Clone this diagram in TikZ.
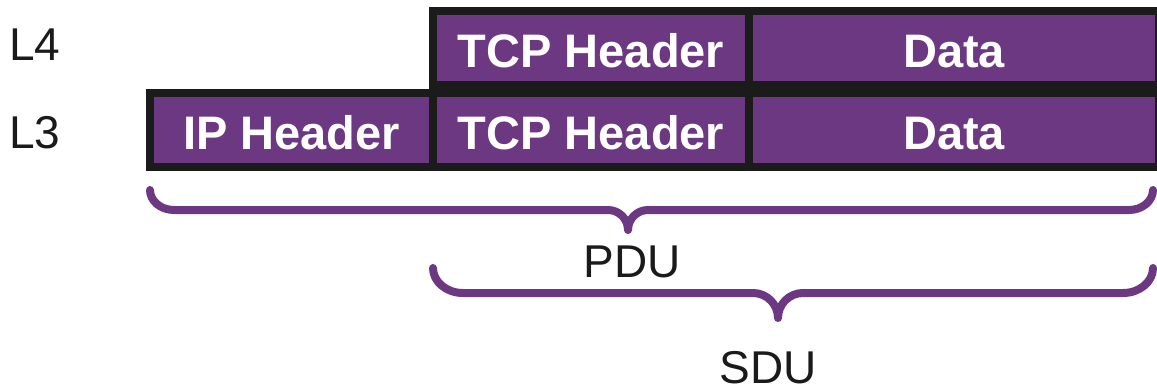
\documentclass[tikz,border=0pt]{standalone}
\usepackage{fontspec}
\setmainfont{Liberation Sans}
\usetikzlibrary{positioning}
\definecolor{pdupurple}{RGB}{108,56,130}
\definecolor{edgegray}{RGB}{27,27,27}
\definecolor{textgray}{RGB}{26,26,26}
% downward curly brace: left x, right x, top y, tip x, size
\def\bracedown(#1,#2,#3,#4,#5){\draw[brace] (#1,#3) .. controls (#1,#3+0.552*#5) and (#1+0.538*#5,#3+#5) .. (#1+1.2*#5,#3+#5) -- (#4-#5,#3+#5) .. controls (#4-0.448*#5,#3+#5) and (#4,#3+1.448*#5) .. (#4,#3+2*#5) .. controls (#4,#3+1.448*#5) and (#4+0.448*#5,#3+#5) .. (#4+#5,#3+#5) -- (#2-1.2*#5,#3+#5) .. controls (#2-0.538*#5,#3+#5) and (#2,#3+0.552*#5) .. (#2,#3);}

\begin{document}
\begin{tikzpicture}[x=1pt, y=-1pt,
	cell/.style={draw=edgegray, line width=8pt, fill=pdupurple, text=white,
		font=\fontsize{47}{56}\selectfont\bfseries, minimum height=74pt,
		text height=39pt, text depth=0pt, inner sep=0pt, outer sep=0pt},
	lbl/.style={text=textgray, font=\fontsize{46}{55}\selectfont, inner sep=0pt, anchor=base},
	brace/.style={draw=pdupurple, line width=8pt, line cap=round, line join=round}]
	%%%%% START %%%%%
	\useasboundingbox (0,0) rectangle (1157,388);
	
	% layer 3 packet
	\node[cell, minimum width=283pt] (iphdr) at (291.5,130) {IP Header};
	\node[cell, minimum width=316pt, right=0pt of iphdr] (tcphdr3) {TCP Header};
	\node[cell, minimum width=410pt, right=0pt of tcphdr3] (data3) {Data};
	
	% layer 4 segment
	\node[cell, minimum width=316pt, above=8pt of tcphdr3] (tcphdr4) {TCP Header};
	\node[cell, minimum width=410pt, right=0pt of tcphdr4] (data4) {Data};
	
	\node[lbl, anchor=base west] (l4) at (9,60) {L4};
	\node[lbl, anchor=base west] (l3) at (9,148) {L3};
	
	% braces
	\bracedown(150,1153,190,628,20)
	\node[lbl] (pdu) at (632.5,277) {PDU};
	
	\bracedown(433,1153,268,778,25)
	\node[lbl] (sdu) at (768,383) {SDU};
	%%%%% END %%%%%
\end{tikzpicture}
\end{document}
